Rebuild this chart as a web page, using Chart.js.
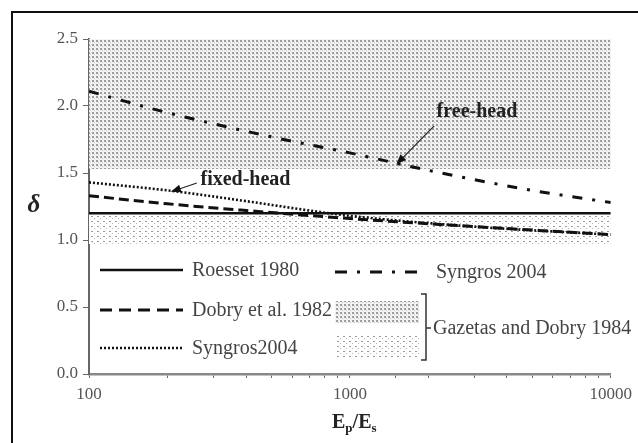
<!DOCTYPE html>
<html>
<head>
<meta charset="utf-8">
<script src="https://cdn.jsdelivr.net/npm/chart.js@4/dist/chart.umd.min.js"></script>
<style>
  html, body { margin: 0; padding: 0; background: #fff; }
  #wrap { width: 638px; height: 443px; position: relative; }
</style>
</head>
<body>
<div id="wrap"><canvas id="c" width="638" height="443"></canvas></div>
<script>
// Pile-to-soil stiffness ratio Ep/Es versus coefficient delta
const roessetX = [100, 10000];
const roessetY = [1.2, 1.2];
const dobryX = [100, 200, 400, 1000, 3000, 10000];
const dobryY = [1.33, 1.27, 1.22, 1.16, 1.10, 1.04];
const fixedX = [100, 200, 400, 700, 1000, 3000, 10000];
const fixedY = [1.43, 1.37, 1.29, 1.22, 1.18, 1.10, 1.04];
const freeX = [100, 200, 500, 1000, 2000, 5000, 10000];
const freeY = [2.11, 1.95, 1.77, 1.65, 1.52, 1.37, 1.28];
// Gazetas and Dobry 1984 ranges: [lower, upper]
const freeBand = [1.53, 2.5];
const fixedBand = [0.97, 1.2];
const bandX = [100, 10000];
const xTickLabels = ['100', '1000', '10000'];
const yTickValues = [0, 0.5, 1.0, 1.5, 2.0, 2.5];

const seriesNames = ['Roesset 1980', 'Dobry et al. 1982', 'Syngros2004', 'Syngros 2004', 'Gazetas and Dobry 1984'];

const SERIF = '"Liberation Serif", "Times New Roman", serif';
const INK = '#111';

function pts(xs, ys) { return xs.map((x, i) => ({ x: x, y: ys[i] })); }

function dotPattern(w, h, dots, bg) {
  const c = document.createElement('canvas');
  c.width = w; c.height = h;
  const g = c.getContext('2d');
  if (bg) { g.fillStyle = bg; g.fillRect(0, 0, w, h); }
  dots.forEach(([x, y, sw, sh, col]) => { g.fillStyle = col; g.fillRect(x, y, sw, sh); });
  return g.createPattern(c, 'repeat');
}

const darkStipple = dotPattern(4, 4, [
  [0, 0, 2, 2, '#9c9c9c'], [2, 2, 1, 1, '#c4c4c4']
], '#f3f3f3');
const lightStipple = dotPattern(6, 5, [
  [1, 1, 2, 1, '#9a9a9a'], [4, 3, 1, 1, '#b4b4b4']
], '#ffffff');

const DASH = [10, 5];
const DOT = [2, 2];
const DASHDOT = [10, 10, 3, 10];

function arrow(ctx, x0, y0, x1, y1) {
  const a = Math.atan2(y1 - y0, x1 - x0);
  const L = 10, W = 4;
  ctx.save();
  ctx.strokeStyle = '#222';
  ctx.fillStyle = '#111';
  ctx.lineWidth = 1.2;
  ctx.beginPath();
  ctx.moveTo(x0, y0);
  ctx.lineTo(x1 - L * Math.cos(a) * 0.8, y1 - L * Math.sin(a) * 0.8);
  ctx.stroke();
  ctx.beginPath();
  ctx.moveTo(x1, y1);
  ctx.lineTo(x1 - L * Math.cos(a) + W * Math.sin(a), y1 - L * Math.sin(a) - W * Math.cos(a));
  ctx.lineTo(x1 - L * Math.cos(a) - W * Math.sin(a), y1 - L * Math.sin(a) + W * Math.cos(a));
  ctx.closePath();
  ctx.fill();
  ctx.restore();
}

const decorations = {
  id: 'decorations',
  afterDraw(chart) {
    const ctx = chart.ctx;
    const xs = chart.scales.x, ys = chart.scales.y;
    const px = v => xs.getPixelForValue(v), py = v => ys.getPixelForValue(v);
    ctx.save();

    // outer frame
    ctx.strokeStyle = '#111';
    ctx.lineWidth = 2;
    ctx.beginPath();
    ctx.moveTo(12, 460); ctx.lineTo(12, 12); ctx.lineTo(660, 12);
    ctx.stroke();

    // annotations
    ctx.fillStyle = '#222';
    ctx.font = 'bold 20px ' + SERIF;
    ctx.textAlign = 'center';
    ctx.textBaseline = 'middle';
    ctx.fillText('free-head', px(3070), py(1.955));
    ctx.fillText('fixed-head', px(398), py(1.448));
    arrow(ctx, px(2100), py(1.85), px(1507), py(1.565));
    arrow(ctx, px(259), py(1.425), px(206), py(1.36));

    // axis titles
    ctx.font = 'bold italic 25px ' + SERIF;
    ctx.fillStyle = '#222';
    ctx.fillText('\u03B4', 34, 206);

    ctx.textAlign = 'left';
    ctx.textBaseline = 'alphabetic';
    let x = 332;
    const base = 428;
    ctx.font = 'bold 20px ' + SERIF;
    ctx.fillText('E', x, base); x += ctx.measureText('E').width;
    ctx.font = 'bold 13px ' + SERIF;
    ctx.fillText('p', x, base + 4); x += ctx.measureText('p').width;
    ctx.font = 'bold 20px ' + SERIF;
    ctx.fillText('/E', x, base); x += ctx.measureText('/E').width;
    ctx.font = 'bold 13px ' + SERIF;
    ctx.fillText('s', x, base + 4);

    // legend
    ctx.font = '20px ' + SERIF;
    ctx.fillStyle = '#444';
    ctx.textBaseline = 'middle';
    ctx.strokeStyle = INK;
    const rows = [
      { y: 270, dash: [], w: 2.5 },
      { y: 310, dash: [12, 7], w: 3 },
      { y: 348, dash: [2, 2], w: 2.5 }
    ];
    rows.forEach((r, i) => {
      ctx.setLineDash(r.dash);
      ctx.lineWidth = r.w;
      ctx.beginPath(); ctx.moveTo(100, r.y); ctx.lineTo(183, r.y); ctx.stroke();
      ctx.fillText(seriesNames[i], 192, r.y + 1);
    });
    ctx.setLineDash([12, 10, 3, 10]);
    ctx.lineWidth = 3;
    ctx.beginPath(); ctx.moveTo(335, 272); ctx.lineTo(418, 272); ctx.stroke();
    ctx.setLineDash([]);
    ctx.fillText(seriesNames[3], 436, 273);

    ctx.fillStyle = darkStipple;
    ctx.fillRect(335, 301, 84, 22);
    ctx.fillStyle = lightStipple;
    ctx.fillRect(335, 334, 84, 24);

    ctx.strokeStyle = '#333';
    ctx.lineWidth = 1.5;
    ctx.beginPath();
    ctx.moveTo(421, 294); ctx.lineTo(426, 294); ctx.lineTo(426, 360); ctx.lineTo(421, 360);
    ctx.moveTo(426, 328); ctx.lineTo(431, 328);
    ctx.stroke();
    ctx.fillStyle = '#444';
    ctx.fillText(seriesNames[4], 433, 329);

    ctx.restore();
  }
};

const chart = new Chart(document.getElementById('c'), {
  type: 'line',
  data: {
    datasets: [
      { label: seriesNames[0], data: pts(roessetX, roessetY), borderColor: INK, borderWidth: 2.5, pointRadius: 0, fill: false },
      { label: seriesNames[1], data: pts(dobryX, dobryY), borderColor: INK, borderWidth: 3, borderDash: DASH, pointRadius: 0, fill: false, cubicInterpolationMode: 'monotone' },
      { label: seriesNames[2], data: pts(fixedX, fixedY), borderColor: INK, borderWidth: 2.6, borderDash: DOT, pointRadius: 0, fill: false, cubicInterpolationMode: 'monotone' },
      { label: seriesNames[3], data: pts(freeX, freeY), borderColor: INK, borderWidth: 3, borderDash: DASHDOT, pointRadius: 0, fill: false, cubicInterpolationMode: 'monotone' },
      { label: seriesNames[4] + ' (free-head)', data: pts(bandX, [freeBand[1], freeBand[1]]), borderWidth: 0, pointRadius: 0, backgroundColor: darkStipple, fill: { value: freeBand[0] } },
      { label: seriesNames[4] + ' (fixed-head)', data: pts(bandX, [fixedBand[1], fixedBand[1]]), borderWidth: 0, pointRadius: 0, backgroundColor: lightStipple, fill: { value: fixedBand[0] } }
    ]
  },
  options: {
    responsive: false,
    animation: false,
    devicePixelRatio: 1,
    layout: { padding: { top: 39, right: 26, left: 0, bottom: 0 } },
    plugins: { legend: { display: false }, tooltip: { enabled: false } },
    scales: {
      x: {
        type: 'logarithmic',
        min: 100, max: 10000,
        afterFit: s => { s.height = 69; },
        ticks: {
          autoSkip: false, maxRotation: 0, padding: 6,
          color: '#555', font: { family: SERIF, size: 17 },
          callback: v => xTickLabels.includes(String(v)) ? String(v) : ''
        },
        grid: { drawOnChartArea: false, drawTicks: true, tickLength: 4, color: '#666' },
        border: { display: true, color: '#888', width: 2.5 }
      },
      y: {
        type: 'linear',
        min: 0, max: 2.5,
        afterFit: s => { s.width = 89; },
        afterBuildTicks: s => { s.ticks = yTickValues.map(v => ({ value: v })); },
        ticks: {
          padding: 5, color: '#555', font: { family: SERIF, size: 17 },
          callback: v => Number(v).toFixed(1)
        },
        grid: { drawOnChartArea: false, drawTicks: true, tickLength: 6, color: '#666' },
        border: { display: true, color: '#666', width: 2 }
      }
    }
  },
  plugins: [decorations]
});
</script>
</body>
</html>
